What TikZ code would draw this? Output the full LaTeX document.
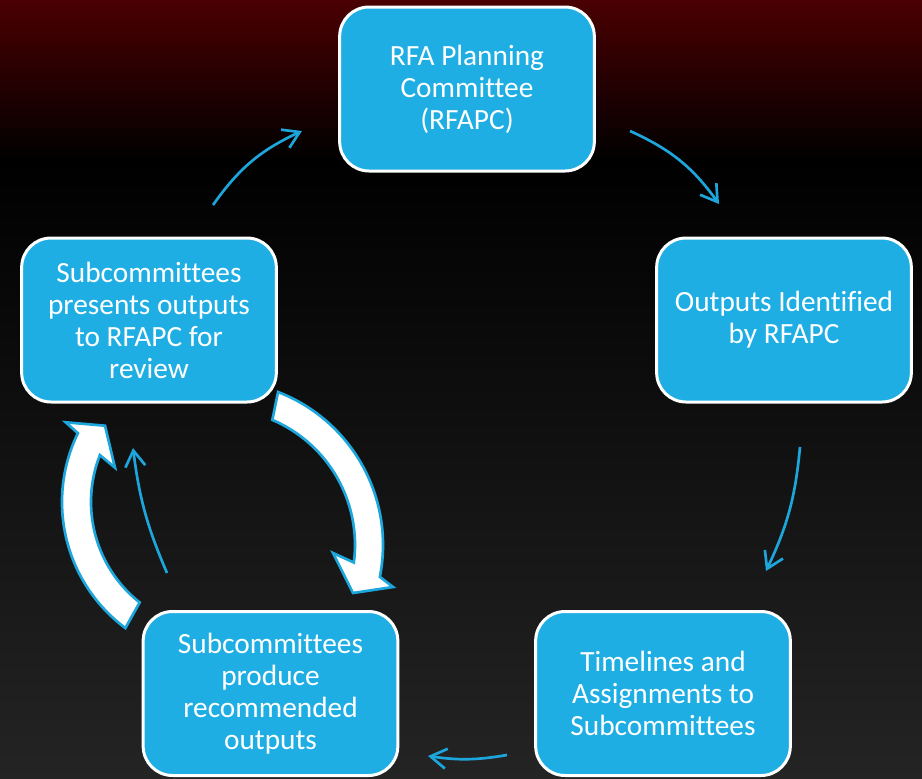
\documentclass[tikz,border=0pt]{standalone}
\usepackage{fontspec}
\setmainfont{Carlito}[RawFeature={-liga;-clig;-calt;-dlig}]
\usetikzlibrary{arrows.meta}
\definecolor{boxblue}{RGB}{31,174,227}
\definecolor{arrblue}{RGB}{29,166,220}
\definecolor{bgred}{RGB}{74,0,2}
\definecolor{bggray}{RGB}{36,36,36}
\begin{document}
\begin{tikzpicture}[x=0.75pt,y=-0.75pt,
  box/.style={draw=white, line width=2.25pt, fill=boxblue, rounded corners=22pt,
    minimum width=191pt, minimum height=123pt, align=center, text=white,
    font=\fontsize{22}{24}\selectfont, inner sep=0pt},
  thinarrow/.style={draw=arrblue, line width=2pt, -{Straight Barb[length=12pt,width=15pt]}},
  bigarrow/.style={fill=white, draw=arrblue, line width=2pt, line join=miter}]
\useasboundingbox (0,0) rectangle (922,779);
\shade[top color=bgred, bottom color=black] (0,0) rectangle (922,161);
\shade[top color=black, bottom color=bggray] (0,160) rectangle (922,779);

% big circular arrows
\draw[bigarrow] ([shift={(-68.9:164)}]219,545) arc[start angle=-68.9,end angle=11.2,radius=164]
  -- (393,587) -- (353,593) -- (333,553)
  -- ([shift={(7.4:136)}]219,545) arc[start angle=7.4,end angle=-66.9,radius=136] -- cycle;
\draw[bigarrow] ([shift={(126.6:157)}]219,502) arc[start angle=126.6,end angle=206,radius=157]
  -- (65.7,422.3) -- (105,425.7) -- (115,467.7)
  -- ([shift={(201.5:128)}]219,502) arc[start angle=201.5,end angle=128.3,radius=128] -- cycle;

% boxes
\node[box] (n1) at (467,89) {RFA Planning\\Committee\\(RFAPC)};
\node[box] (n2) at (784,320) {Outputs Identified\\by RFAPC};
\node[box] (n3) at (663,693.5) {Timelines and\\Assignments to\\Subcommittees};
\node[box] (n4) at (270.5,693.5) {Subcommittees\\produce\\recommended\\outputs};
\node[box] (n5) at (149,320) {Subcommittees\\presents outputs\\to RFAPC for\\review};

% thin connectors
\coordinate (a1s) at (213,205); \coordinate (a1e) at (302,131);
\coordinate (a2s) at (630,131); \coordinate (a2e) at (719,204);
\coordinate (a3s) at (800,447); \coordinate (a3e) at (766,571);
\coordinate (a4s) at (507,755); \coordinate (a4e) at (428,756);
\coordinate (a5s) at (167,573); \coordinate (a5e) at (133,448);
\draw[thinarrow] (a1s) to[bend left=15] (a1e);
\draw[thinarrow] (a2s) to[bend left=15] (a2e);
\draw[thinarrow] (a3s) to[bend left=10] (a3e);
\draw[thinarrow] (a4s) to[bend left=9] (a4e);
\draw[thinarrow] (a5s) to[bend left=8] (a5e);
\end{tikzpicture}
\end{document}
